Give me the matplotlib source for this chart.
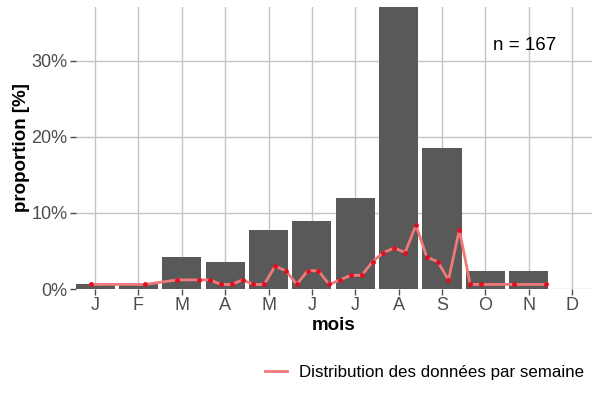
import matplotlib
matplotlib.use("Agg")
import matplotlib.pyplot as plt
from matplotlib.ticker import FuncFormatter

plt.rcParams['font.family'] = ['Liberation Sans', 'DejaVu Sans']

month_labels = ["J", "F", "M", "A", "M", "J", "J", "A", "S", "O", "N", "D"]
month_props = [0.6, 0.6, 4.2, 3.6, 7.8, 9.0, 12.0, 38.9, 18.6, 2.4, 2.4, 0.0]

week_index = [0, 5, 8, 10, 11, 12, 13, 14, 15, 16, 17, 18, 19, 20, 21, 22, 23,
              24, 25, 26, 27, 28, 29, 30, 31, 32, 33, 34, 35, 36, 39, 42]
week_props = [0.6, 0.6, 1.2, 1.2, 1.2, 0.6, 0.6, 1.2, 0.6, 0.6, 3.0, 2.4, 0.6,
              2.4, 2.4, 0.6, 1.2, 1.8, 1.8, 3.6, 4.8, 5.4, 4.8, 8.4, 4.2, 3.6,
              1.2, 7.8, 0.6, 0.6, 0.6, 0.6]

n_total = 167

fig = plt.figure(figsize=(6, 4), dpi=100)
ax = fig.add_axes([0.1267, 0.2775, 0.86, 0.705])

months = list(range(1, 13))
week_x = [0.9 + 0.25 * k for k in week_index]

ax.bar(months, month_props, width=0.9, color="#595959", zorder=2)
line, = ax.plot(week_x, week_props, color="#F07878", lw=2.0, zorder=3,
                solid_joinstyle="round", label="Distribution des données par semaine")
ax.plot(week_x, week_props, 'o', color="#DD1020", ms=3.5, mec="none", zorder=4)

ax.set_xlim(0.56, 12.46)
ax.set_ylim(0, 37.1)
ax.set_xticks(months)
ax.set_xticklabels(month_labels)
ax.set_yticks([0, 10, 20, 30])
ax.yaxis.set_major_formatter(FuncFormatter(lambda v, p: f"{v:.0f}%"))

ax.grid(True, color="#C4C4C4", lw=1.0, zorder=0)
ax.set_axisbelow(True)
for s in ax.spines.values():
    s.set_visible(False)
ax.tick_params(axis='both', colors="#4D4D4D", labelsize=13, length=4, width=1.0, pad=2)
ax.tick_params(axis='both', labelcolor="#4D4D4D")

ax.set_xlabel("mois", fontsize=13.5, fontweight="bold", labelpad=2)
ax.set_ylabel("proportion [%]", fontsize=13.5, fontweight="bold", labelpad=1)

ax.text(10.9, 32.1, f"n = {n_total}", fontsize=13.5, ha="center", va="center")

fig.legend(handles=[line], loc="center right", bbox_to_anchor=(0.999, 0.07),
           frameon=False, fontsize=12.2, handlelength=1.3, handletextpad=0.7)

fig.savefig("out.png", dpi=100, facecolor="white")
